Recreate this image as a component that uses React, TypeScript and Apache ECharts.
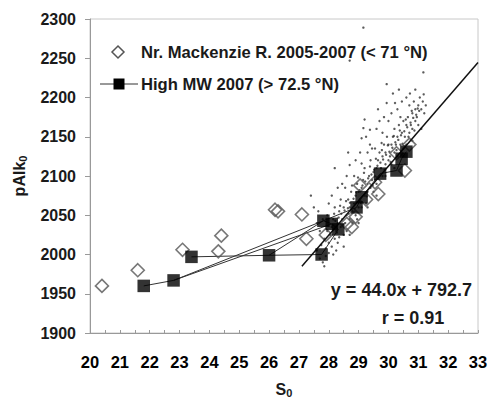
import React, { useEffect, useRef } from "react";
import * as echarts from "echarts";

const legendNames = ["Nr. Mackenzie R. 2005-2007 (< 71 °N)", "High MW 2007 (> 72.5 °N)"];
const slope = 44.0;
const intercept = 792.7;
const fitRange = [27.1, 33];
const eqText = "y = 44.0x + 792.7";
const rText = "r = 0.91";

const mackenzie: [number, number][] = [
  [20.4, 1960], [21.6, 1980], [23.1, 2006], [24.3, 2004], [24.4, 2024],
  [26.2, 2057], [26.3, 2055], [27.1, 2051], [27.25, 2020], [27.9, 2025],
  [28.6, 2039], [28.77, 2035], [28.9, 2048], [29.05, 2088], [29.25, 2070],
  [29.66, 2077], [29.55, 2092], [30.27, 2129], [30.55, 2107], [30.7, 2140],
];

const highMW: [number, number][] = [
  [21.8, 1960], [22.8, 1967], [23.4, 1997], [26.0, 1999], [27.76, 2000],
  [27.82, 2043], [28.1, 2039], [28.32, 2032], [28.93, 2060], [29.1, 2073],
  [29.72, 2103], [30.27, 2107], [30.44, 2122], [30.6, 2131],
];

const segA: [number, number][] = [[21.8, 1960], [22.8, 1967], [27.82, 2043]];
const segB: [number, number][] = [[22.8, 1967], [28.1, 2039]];
const segC: [number, number][] = [[23.4, 1997], [26.0, 1999], [27.76, 2000]];
const segD: [number, number][] = [[26.0, 1999], [27.82, 2043]];
const segE: [number, number][] = [
  [27.76, 2000], [28.32, 2032], [28.1, 2039], [27.82, 2043], [28.93, 2060],
  [29.1, 2073], [29.72, 2103], [30.27, 2107], [30.44, 2122], [30.6, 2131],
];

const dots: [number, number][] = [
  [27.6, 2005], [27.7, 1995], [27.75, 2012], [27.8, 1990], [27.85, 2020], [27.9, 2008],
  [27.95, 2030], [27.7, 2030], [27.8, 2045], [27.6, 2040], [27.5, 2060], [27.9, 1998],
  [28.0, 2015], [28.0, 2002], [27.95, 2050], [27.4, 2075], [27.65, 2055],
  [28.05, 2025], [28.1, 2035], [28.1, 2010], [28.15, 2045], [28.2, 2020], [28.2, 2060],
  [28.25, 2030], [28.3, 2040], [28.3, 2015], [28.35, 2055], [28.4, 2035], [28.4, 2070],
  [28.45, 2045], [28.5, 2025], [28.5, 2060], [28.2, 2110], [28.3, 2085], [28.1, 2075],
  [28.45, 2090], [28.0, 2065], [28.35, 2022], [28.15, 2000],
  [28.55, 2040], [28.6, 2050], [28.6, 2030], [28.65, 2070], [28.7, 2045], [28.7, 2060],
  [28.75, 2080], [28.8, 2055], [28.8, 2040], [28.85, 2065], [28.9, 2075], [28.9, 2050],
  [28.95, 2090], [29.0, 2060], [29.0, 2080], [28.7, 2114], [28.6, 2100], [28.85, 2100],
  [28.55, 2085], [28.9, 2120], [28.65, 2130], [28.7, 2247], [28.95, 2045],
  [29.05, 2070], [29.1, 2085], [29.1, 2060], [29.15, 2095], [29.2, 2075], [29.2, 2110],
  [29.25, 2065], [29.3, 2090], [29.3, 2080], [29.35, 2100], [29.4, 2085], [29.4, 2120],
  [29.45, 2095], [29.5, 2105], [29.5, 2080], [29.1, 2116], [29.16, 2161], [29.1, 2148],
  [29.38, 2140], [29.38, 2159], [29.16, 2289], [29.3, 2130], [29.25, 2150], [29.45, 2135],
  [29.05, 2130], [29.2, 2172],
  [29.55, 2095], [29.6, 2110], [29.6, 2090], [29.65, 2120], [29.7, 2100], [29.7, 2130],
  [29.75, 2110], [29.8, 2125], [29.8, 2100], [29.85, 2140], [29.9, 2115], [29.9, 2130],
  [29.95, 2150], [30.0, 2120], [30.0, 2140], [29.77, 2142], [29.94, 2193], [29.94, 2217],
  [29.6, 2160], [29.7, 2170], [29.8, 2155], [29.55, 2135], [29.85, 2175], [29.65, 2185],
  [30.05, 2125], [30.1, 2140], [30.1, 2115], [30.15, 2150], [30.2, 2130], [30.2, 2160],
  [30.25, 2140], [30.3, 2150], [30.3, 2125], [30.35, 2165], [30.4, 2140], [30.4, 2175],
  [30.45, 2155], [30.5, 2170], [30.5, 2135], [30.22, 2193], [30.1, 2180], [30.3, 2185],
  [30.45, 2195], [30.0, 2170], [30.15, 2205], [30.35, 2210],
  [30.55, 2150], [30.6, 2165], [30.6, 2140], [30.65, 2175], [30.7, 2155], [30.7, 2190],
  [30.75, 2165], [30.8, 2180], [30.8, 2160], [30.85, 2195], [30.9, 2170], [30.9, 2185],
  [30.95, 2175], [31.0, 2190], [31.0, 2165], [31.05, 2200], [31.1, 2185], [31.15, 2195],
  [31.2, 2180], [30.72, 2205], [31.17, 2232], [30.6, 2200], [30.9, 2210], [31.25, 2190],
  [28.5, 2010], [28.7, 2025], [29.0, 2040], [29.3, 2060], [29.6, 2075], [29.9, 2100],
  [30.2, 2110], [30.5, 2125], [30.8, 2145], [31.1, 2160], [28.25, 2005], [27.85, 1985],
  [28.12, 2038], [28.22, 2043], [28.33, 2047], [28.42, 2052], [28.53, 2056], [28.64, 2059],
  [28.71, 2066], [28.83, 2071], [28.92, 2079], [29.03, 2082], [29.13, 2088], [29.22, 2093],
  [29.32, 2097], [29.43, 2102], [29.52, 2108], [29.63, 2113], [29.73, 2117], [29.82, 2121],
  [29.92, 2127], [30.03, 2131], [30.13, 2136], [30.23, 2143], [30.33, 2146], [30.42, 2152],
  [30.53, 2157], [30.63, 2162], [30.74, 2168], [30.83, 2174], [30.93, 2178], [31.03, 2183],
  [28.18, 2052], [28.38, 2062], [28.58, 2068], [28.78, 2088], [28.98, 2098], [29.18, 2104],
  [29.38, 2112], [29.58, 2122], [29.78, 2133], [29.98, 2139], [30.18, 2151], [30.38, 2158],
  [30.58, 2172], [30.78, 2183], [30.98, 2186], [31.18, 2204], [28.27, 2028], [28.47, 2038],
  [28.67, 2052], [28.87, 2058], [29.07, 2066], [29.27, 2074], [29.47, 2088], [29.67, 2098],
  [29.87, 2108], [30.07, 2118], [30.27, 2133], [30.47, 2141], [30.67, 2150], [30.87, 2158],
];

const FONT = "Arial, 'Liberation Sans', sans-serif";
const TXT = "#1a1a1a";

export default function App() {
  const ref = useRef<HTMLDivElement>(null);
  useEffect(() => {
    if (!ref.current) return;
    const chart = echarts.init(ref.current, undefined, { renderer: "svg" });
    const fit = fitRange.map((x) => [x, slope * x + intercept]);
    const segStyle = (data: [number, number][]) => ({
      type: "line",
      data,
      symbol: "none",
      lineStyle: { color: "#333", width: 1 },
      silent: true,
      z: 3,
    });
    const sub = { fontFamily: FONT, fontWeight: "bold", fontSize: 11, color: TXT, verticalAlign: "bottom", padding: [6, 0, 0, 0] };
    const labelStyle = { fontFamily: FONT, fontWeight: "bold", fontSize: 16, color: TXT };
    chart.setOption({
      animation: false,
      textStyle: { fontFamily: FONT, fontWeight: "bold", color: TXT },
      grid: {
        left: 90, right: 12, top: 19, bottom: 67,
        show: true, borderColor: "#c8c8c8", borderWidth: 1,
        containLabel: false, outerBoundsMode: "none",
      },
      xAxis: [
        {
          type: "value",
          min: 20,
          max: 33,
          interval: 1,
          name: "S{sub|0}",
          nameLocation: "middle",
          nameGap: 48,
          nameTextStyle: { ...labelStyle, rich: { sub } },
          axisLine: { lineStyle: { color: "#999" } },
          axisTick: { show: false },
          splitLine: { show: false },
          axisLabel: {
            ...labelStyle,
            color: "#000",
            fontSize: 16.5,
            margin: 20,
            formatter: (v: number) => String(v),
          },
        },
        {
          type: "value",
          min: 20,
          max: 33,
          interval: 0.5,
          position: "bottom",
          axisLine: { show: false },
          axisTick: { show: true, inside: true, length: 3, lineStyle: { color: "#999" } },
          axisLabel: { show: false },
          splitLine: { show: false },
        },
      ],
      yAxis: {
        type: "value",
        min: 1900,
        max: 2300,
        interval: 50,
        name: "pAlk{sub|0}",
        nameLocation: "middle",
        nameGap: 62,
        nameTextStyle: { ...labelStyle, rich: { sub } },
        axisLine: { show: true, lineStyle: { color: "#999" } },
        axisTick: { show: true, length: 5, lineStyle: { color: "#999" } },
        splitLine: { show: false },
        axisLabel: { ...labelStyle, margin: 14, formatter: (v: number) => String(v) },
      },
      series: [
        {
          type: "scatter",
          data: dots,
          symbol: "circle",
          symbolSize: 2.4,
          itemStyle: { color: "#333" },
          silent: true,
          z: 1,
        },
        segStyle(segA),
        segStyle(segB),
        segStyle(segC),
        segStyle(segD),
        segStyle(segE),
        {
          type: "scatter",
          name: legendNames[0],
          data: mackenzie,
          symbol: "diamond",
          symbolSize: 13,
          itemStyle: { color: "rgba(255,255,255,0)", borderColor: "#555", borderWidth: 1.6 },
          z: 4,
        },
        {
          type: "line",
          data: fit,
          symbol: "none",
          lineStyle: { color: "#111", width: 1.5 },
          silent: true,
          z: 5,
        },
        {
          type: "scatter",
          name: legendNames[1],
          data: highMW,
          symbol: "rect",
          symbolSize: 12.5,
          itemStyle: { color: "#000" },
          z: 6,
        },
      ],
      graphic: [
        {
          type: "polygon",
          shape: { points: [[118, 46], [124, 52], [118, 58], [112, 52]] },
          style: { fill: "#fff", stroke: "#555", lineWidth: 1.5 },
        },
        {
          type: "text",
          x: 141, y: 52,
          style: { text: legendNames[0], font: `bold 16.6px ${FONT}`, fill: TXT, verticalAlign: "middle" },
        },
        { type: "line", shape: { x1: 100, y1: 84, x2: 138, y2: 84 }, style: { stroke: "#333", lineWidth: 1 } },
        { type: "rect", shape: { x: 113.5, y: 78.5, width: 11, height: 11 }, style: { fill: "#000" } },
        {
          type: "text",
          x: 141, y: 84,
          style: { text: legendNames[1], font: `bold 16.6px ${FONT}`, fill: TXT, verticalAlign: "middle" },
        },
        {
          type: "text",
          x: 472, y: 290,
          style: { text: eqText, font: `bold 18px ${FONT}`, fill: TXT, align: "right", verticalAlign: "middle" },
        },
        {
          type: "text",
          x: 413, y: 318,
          style: { text: rText, font: `bold 18px ${FONT}`, fill: TXT, align: "center", verticalAlign: "middle" },
        },
      ],
    });
    return () => chart.dispose();
  }, []);
  return <div ref={ref} style={{ position: "fixed", left: 0, top: 0, width: 490, height: 400, background: "#fff" }} />;
}
